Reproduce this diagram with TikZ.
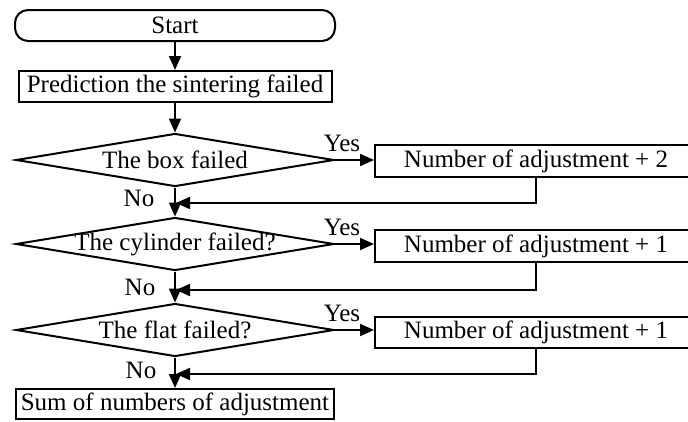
\documentclass[tikz,border=0pt]{standalone}
\usepackage{fontspec}
\setmainfont{Liberation Serif}
\usetikzlibrary{shapes.geometric,arrows.meta}

\begin{document}
\begin{tikzpicture}[x=1pt, y=-1pt, line width=2pt,
  every node/.style={font=\fontsize{25}{29}\selectfont},
  termbox/.style={draw, rectangle, rounded corners=13pt, inner sep=0pt,
    minimum height=31pt},
  procbox/.style={draw, rectangle, inner sep=0pt, minimum height=31pt},
  decision/.style={draw, diamond, inner sep=0pt, minimum width=318pt,
    minimum height=53pt},
  flow/.style={-{Triangle[length=14pt, width=12pt]}},
  lbl/.style={inner sep=0pt}
]
\useasboundingbox (0,0) rectangle (688,421);
\clip (0,0) rectangle (688,421);

% main column
\node[termbox, minimum width=320pt] (start) at (175,25.5) {Start};
\node[procbox, minimum width=313pt] (pred) at (175,86.5)
  {Prediction the sintering failed};
\node[decision] (d1) at (175,160) {\makebox[0pt]{The box failed}};
\node[decision] (d2) at (175,244) {\makebox[0pt]{The cylinder failed?}};
\node[decision] (d3) at (175,330) {\makebox[0pt]{The flat failed?}};
\node[procbox, minimum width=318pt, minimum height=30pt] (sum) at (175,404)
  {Sum of numbers of adjustment};

% adjustment boxes on the right
\node[procbox, minimum width=322pt, minimum height=32pt] (b1) at (536,161)
  {Number of adjustment + 2};
\node[procbox, minimum width=322pt, minimum height=32pt] (b2) at (536,246)
  {Number of adjustment + 1};
\node[procbox, minimum width=322pt, minimum height=31pt] (b3) at (536,332.5)
  {Number of adjustment + 1};

% points where the branches rejoin the main column
\coordinate (m1) at (175,203);
\coordinate (m2) at (175,290);
\coordinate (m3) at (175,374);

% main flow
\draw[flow] (start) -- (pred);
\draw[flow] (pred) -- (d1);
\draw[flow] (d1) -- (d2);
\draw[flow] (d2) -- (d3);
\draw[flow] (d3) -- (sum);

% yes branches
\draw[flow] (d1.east) -- (d1.east -| b1.west);
\draw[flow] (d2.east) -- (d2.east -| b2.west);
\draw[flow] (d3.east) -- (d3.east -| b3.west);

% returns
\draw[flow, shorten >=1pt] (b1.south) |- (m1);
\draw[flow, shorten >=1pt] (b2.south) |- (m2);
\draw[flow, shorten >=1pt] (b3.south) |- (m3);

% branch labels
\node[lbl] (y1) at (342,143) {Yes};
\node[lbl] (y2) at (342,227) {Yes};
\node[lbl] (y3) at (342,313) {Yes};
\node[lbl] (n1) at (139,198) {No};
\node[lbl] (n2) at (140,287) {No};
\node[lbl] (n3) at (141,370) {No};
\end{tikzpicture}
\end{document}
